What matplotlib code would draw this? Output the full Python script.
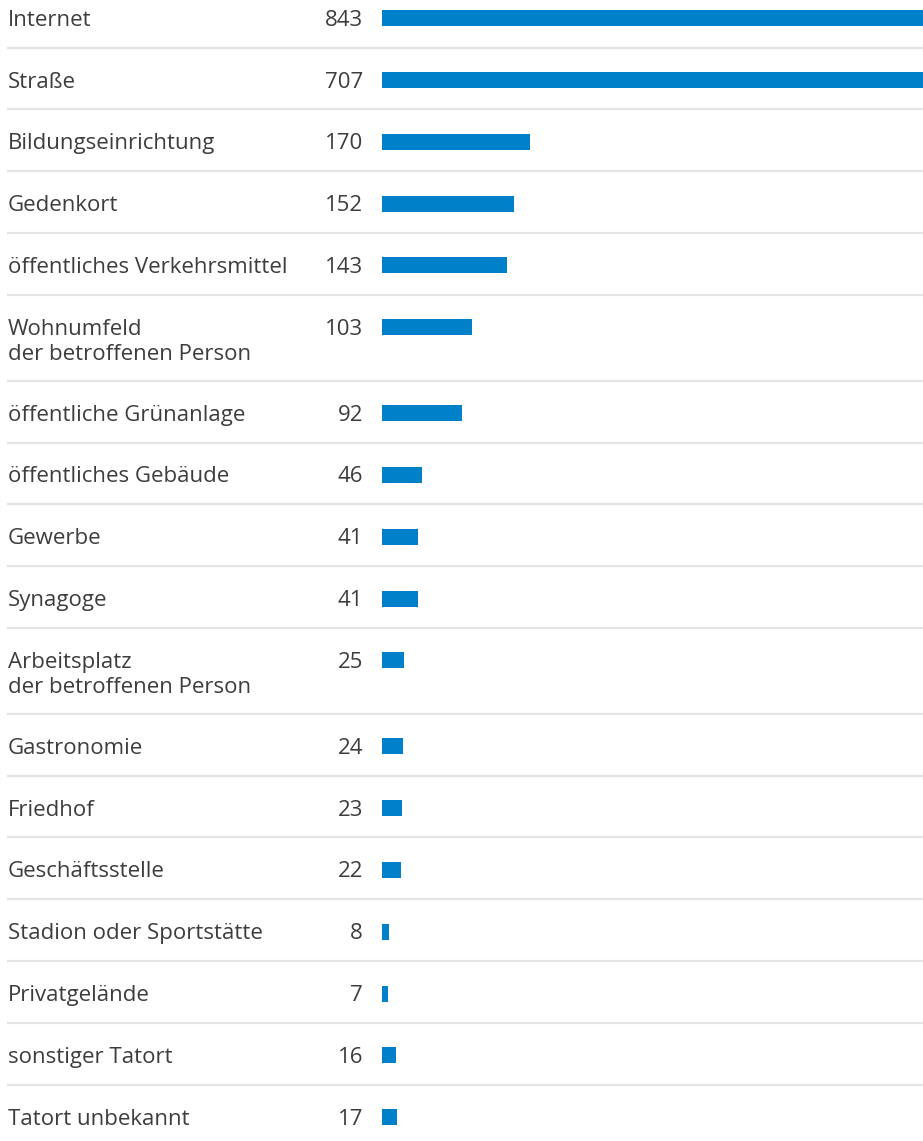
import matplotlib
matplotlib.use("Agg")
import matplotlib.pyplot as plt

# Tatorte und Fallzahlen
categories = [
    "Internet",
    "Straße",
    "Bildungseinrichtung",
    "Gedenkort",
    "öffentliches Verkehrsmittel",
    "Wohnumfeld\nder betroffenen Person",
    "öffentliche Grünanlage",
    "öffentliches Gebäude",
    "Gewerbe",
    "Synagoge",
    "Arbeitsplatz\nder betroffenen Person",
    "Gastronomie",
    "Friedhof",
    "Geschäftsstelle",
    "Stadion oder Sportstätte",
    "Privatgelände",
    "sonstiger Tatort",
    "Tatort unbekannt",
]
values = [843, 707, 170, 152, 143, 103, 92, 46, 41, 41, 25, 24, 23, 22, 8, 7, 16, 17]

bar_color = "#0080c8"
text_color = "#3d3d3d"
line_color = "#e4e4e4"

W, H = 923, 1141
plt.rcParams['font.family'] = ['Open Sans', 'DejaVu Sans']

fig = plt.figure(figsize=(W / 100, H / 100), dpi=100)
ax_bg = fig.add_axes([0, 0, 1, 1])
ax_bg.set_xlim(0, W)
ax_bg.set_ylim(H, 0)
ax_bg.axis("off")

bar_left = 382
ax = fig.add_axes([bar_left / W, 0, (W - bar_left) / W, 1])
ax.set_xlim(0, 621)
ax.set_ylim(H, 0)
ax.axis("off")

#  row layout in pixels: single rows ~62 px, two-line rows ~86 px
row_single = 61.8
line_step = 25
top = 47.5 - row_single
tops = []
for cat in categories:
    tops.append(top)
    top += row_single + cat.count("\n") * 24.2

centers = [t + 32.5 for t in tops]
ax.barh(centers, values, height=16, color=bar_color, linewidth=0)

fs = 16
for i, (cat, val, t) in enumerate(zip(categories, values, tops)):
    if i > 0:
        ax_bg.plot([7, W], [t, t], color=line_color, linewidth=1.6,
                   solid_capstyle="butt")
    base = t + 40
    for k, line in enumerate(cat.split("\n")):
        ax_bg.text(8, base + k * line_step, line, fontsize=fs,
                   color=text_color, va="baseline", ha="left")
    ax_bg.text(363, base, str(val), fontsize=fs, color=text_color,
               va="baseline", ha="right")

fig.savefig("out.png", dpi=100)
